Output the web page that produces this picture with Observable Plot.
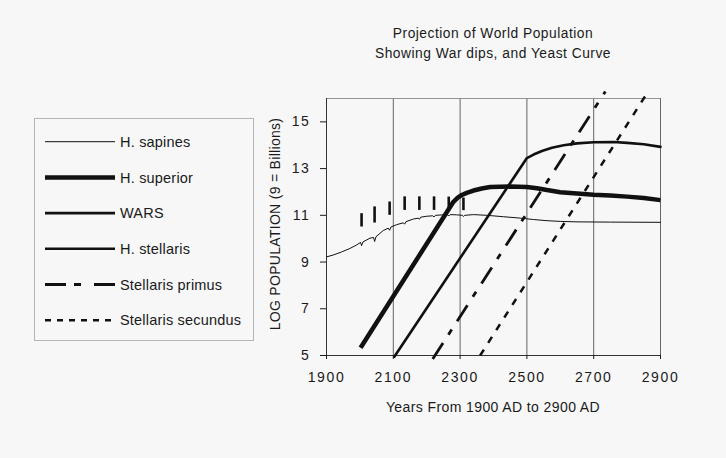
<!DOCTYPE html>
<html><head><meta charset="utf-8">
<script src="https://cdn.jsdelivr.net/npm/d3@7"></script>
<script src="https://cdn.jsdelivr.net/npm/@observablehq/plot@0.6"></script>
<style>
html,body{margin:0;padding:0;background:#f7f7f7;}
#chart{width:726px;height:458px;}
svg{font-family:"Liberation Sans",Arial,sans-serif;}
</style></head><body><div id="chart"></div>
<script>
// ---- text ----
const titleLines = ["Projection of World Population", "Showing War dips, and Yeast Curve"];
const xLabel = "Years From 1900 AD to 2900 AD";
const yLabel = "LOG POPULATION (9 = Billions)";
const xTicks = [1900, 2100, 2300, 2500, 2700, 2900];
const yTicks = [5, 7, 9, 11, 13, 15];
const gridYears = [2100, 2300, 2500, 2700, 2900];
const seriesNames = ["H. sapines", "H. superior", "WARS", "H. stellaris", "Stellaris primus", "Stellaris secundus"];

// ---- data: [year, log population] ----
const sapines = [[1900,9.22],[1920,9.3],[1945,9.43],[1970,9.58],[1990,9.73],[2002,9.84],[2005,9.7],[2009,9.86],[2030,10.02],[2041,10.05],[2044,9.88],[2048,10.08],[2070,10.35],[2085,10.45],[2089,10.36],[2093,10.5],[2110,10.6],[2130,10.68],[2134,10.62],[2138,10.73],[2160,10.84],[2175,10.88],[2178,10.83],[2182,10.92],[2200,10.96],[2218,10.98],[2222,10.93],[2226,11.0],[2250,11.02],[2263,11.02],[2266,10.97],[2270,11.03],[2290,11.02],[2307,11.0],[2310,10.95],[2314,11.0],[2340,11.03],[2380,11.0],[2430,10.94],[2480,10.88],[2520,10.82],[2560,10.77],[2600,10.74],[2650,10.72],[2750,10.71],[2900,10.7]];
const superior = [[2002,5.33],[2280,11.58],[2293,11.76],[2305,11.87],[2320,11.96],[2340,12.06],[2365,12.15],[2390,12.21],[2450,12.23],[2500,12.21],[2530,12.16],[2560,12.08],[2600,11.99],[2650,11.93],[2700,11.88],[2750,11.85],[2800,11.8],[2850,11.74],[2900,11.65]];
// [year, low, high]
const wars = [[2005,10.5,11.07],[2044,10.67,11.36],[2089,11.0,11.57],[2134,11.21,11.79],[2178,11.21,11.79],[2222,11.21,11.79],[2266,11.22,11.78],[2310,11.2,11.74]];
const stellaris = [[2103,4.95],[2500,13.45],[2520,13.6],[2545,13.75],[2575,13.89],[2610,14.0],[2650,14.08],[2700,14.13],[2760,14.14],[2800,14.1],[2850,14.04],[2900,13.93]];
const primus = [[2218,4.85],[2735,16.3]];
const secundus = [[2360,5.0],[2863,16.3]];

// ---- styles ----
const ink = "#111";
const seriesStyle = {
  "H. sapines": {w: 1, dash: null},
  "H. superior": {w: 4.5, dash: null},
  "WARS": {w: 2.6, dash: null},
  "H. stellaris": {w: 2.6, dash: null},
  "Stellaris primus": {w: 2.8, dash: "21,8,7,13", plotDash: "19,10,6,10"},
  "Stellaris secundus": {w: 2.5, dash: "6,6", plotDash: "7,8"}
};

const rows = arr => arr.map(([x, y]) => ({x, y}));
const warRows = wars.map(([year, lo, hi]) => ({year, lo, hi}));

const chart = Plot.plot({
  width: 726, height: 458,
  marginLeft: 326, marginRight: 66, marginTop: 98, marginBottom: 103,
  style: {background: "transparent", fontFamily: "Liberation Sans, Arial, sans-serif", color: "#1a1a1a"},
  x: {domain: [1900, 2900]},
  y: {domain: [5, 16]},
  marks: [
    Plot.ruleX(gridYears, {stroke: "#555", strokeWidth: 0.9}),
    Plot.ruleY([16], {stroke: "#888", strokeWidth: 0.9}),
    Plot.ruleX([1900], {stroke: "#333", strokeWidth: 1}),
    Plot.ruleY([5], {stroke: "#333", strokeWidth: 1}),
    Plot.axisX({ticks: xTicks, tickFormat: d => String(d), tickSize: 4, tickPadding: 13, fontSize: 14, label: null}),
    Plot.axisY({ticks: yTicks, tickSize: 6, tickPadding: 10, fontSize: 14, label: null}),
    Plot.line(rows(sapines), {x: "x", y: "y", stroke: ink, strokeWidth: seriesStyle["H. sapines"].w}),
    Plot.ruleX(warRows, {x: "year", y1: "lo", y2: "hi", stroke: ink, strokeWidth: seriesStyle["WARS"].w}),
    Plot.line(rows(superior), {x: "x", y: "y", stroke: ink, strokeWidth: seriesStyle["H. superior"].w, strokeLinecap: "butt"}),
    Plot.line(rows(stellaris), {x: "x", y: "y", stroke: ink, strokeWidth: seriesStyle["H. stellaris"].w}),
    Plot.line(rows(primus), {x: "x", y: "y", stroke: ink, strokeWidth: seriesStyle["Stellaris primus"].w, strokeDasharray: seriesStyle["Stellaris primus"].plotDash, strokeLinecap: "butt"}),
    Plot.line(rows(secundus), {x: "x", y: "y", stroke: ink, strokeWidth: seriesStyle["Stellaris secundus"].w, strokeDasharray: seriesStyle["Stellaris secundus"].plotDash, strokeLinecap: "butt"})
  ]
});

document.getElementById("chart").appendChild(chart);
const svg = d3.select(chart);
svg.selectAll('[aria-label="x-axis tick label"] text, [aria-label="y-axis tick label"] text').attr("letter-spacing", "1.6");

const ff = "Liberation Sans, Arial, sans-serif";
// title
titleLines.forEach((t, i) => {
  svg.append("text").attr("x", 493).attr("y", 38 + i * 20.3).attr("text-anchor", "middle")
    .attr("font-family", ff).attr("font-size", 13.8).attr("letter-spacing", "0.5").attr("fill", "#1a1a1a").text(t);
});
// axis labels
svg.append("text").attr("x", 493).attr("y", 412).attr("text-anchor", "middle")
  .attr("font-family", ff).attr("font-size", 14).attr("letter-spacing", "0.4").attr("fill", "#1a1a1a").text(xLabel);
svg.append("text").attr("transform", "translate(280,224) rotate(-90)").attr("text-anchor", "middle")
  .attr("font-family", ff).attr("font-size", 14).attr("letter-spacing", "0.3").attr("fill", "#1a1a1a").text(yLabel);

// legend
const lg = svg.append("g").attr("text-anchor", "start");
lg.append("rect").attr("x", 34.5).attr("y", 118.5).attr("width", 219).attr("height", 222)
  .attr("fill", "none").attr("stroke", "#b5b5b5").attr("stroke-width", 1);
seriesNames.forEach((name, i) => {
  const y = 141.7 + i * 35.7;
  const st = seriesStyle[name];
  const ln = lg.append("line").attr("x1", 45).attr("x2", 115).attr("y1", y).attr("y2", y)
    .attr("stroke", ink).attr("stroke-width", st.w);
  if (st.dash) ln.attr("stroke-dasharray", st.dash);
  lg.append("text").attr("x", 120).attr("y", y).attr("dy", "0.36em").attr("text-anchor", "start")
    .attr("font-family", ff).attr("font-size", 14.5).attr("letter-spacing", "0.2").attr("fill", "#1a1a1a").text(name);
});
</script>
</body></html>
